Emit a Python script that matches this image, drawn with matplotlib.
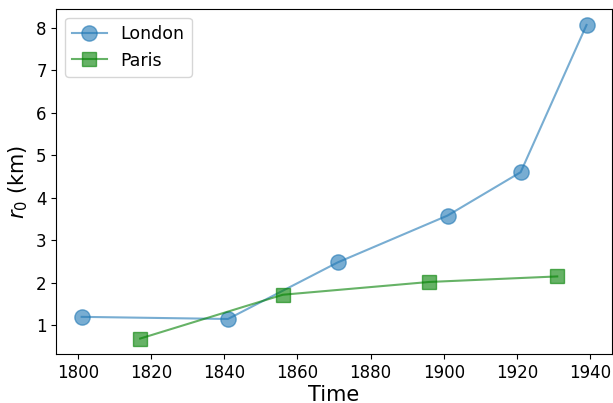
import matplotlib
matplotlib.use("Agg")
from matplotlib import pyplot as plt

london_years = [1801, 1841, 1871, 1901, 1921, 1939]
london_r0 = [1.20, 1.15, 2.48, 3.58, 4.60, 8.06]
paris_years = [1817, 1856, 1896, 1931]
paris_r0 = [0.69, 1.72, 2.02, 2.15]

fig = plt.figure(figsize=(6.13, 4.03), dpi=100)
ax = fig.add_axes([0.092, 0.121, 0.906, 0.856])
ax.plot(london_years, london_r0, 'o-', color='tab:blue', alpha=0.6,
        markersize=11, linewidth=1.5, label='London')
ax.plot(paris_years, paris_r0, 's-', color='green', alpha=0.6,
        markersize=10, linewidth=1.5, label='Paris')
ax.set_xlabel('Time', fontsize=15, labelpad=2)
ax.set_ylabel(r'$r_0$ (km)', fontsize=15)
ax.tick_params(labelsize=12)
ax.legend(fontsize=12.5, loc='upper left')
fig.savefig('out.png', dpi=100)
